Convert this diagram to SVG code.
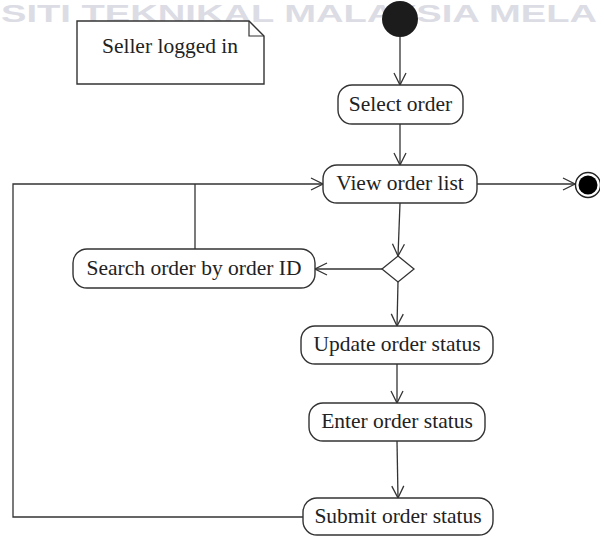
<svg xmlns="http://www.w3.org/2000/svg" width="600" height="536" viewBox="0 0 600 536">
<defs>
<marker id="arr" markerWidth="14" markerHeight="14" refX="13" refY="7" orient="auto" markerUnits="userSpaceOnUse">
<path d="M1,1 L13,7 L1,13" fill="none" stroke="#333" stroke-width="1.3"/>
</marker>
</defs>
<style>
.wm{font-family:"Liberation Sans",Arial,sans-serif;font-weight:bold;font-size:23px;fill:#dcdce5}
.node rect{fill:#fff;stroke:#333;stroke-width:1.4}
.lbl{font-family:"Liberation Serif","Times New Roman",serif;font-size:21.5px;fill:#222;text-anchor:middle}
.conn path{fill:none;stroke:#333;stroke-width:1.3}
</style>
<rect width="600" height="536" fill="#fff"/>
<text class="wm" x="1" y="21.5" textLength="596" lengthAdjust="spacingAndGlyphs">SITI TEKNIKAL MALAYSIA MELA</text>
<g id="note">
<path d="M77,21 L249,21 L264,36 L264,84 L77,84 Z" fill="#fff" stroke="#333" stroke-width="1.4"/>
<path d="M249,21 L249,36 L264,36" fill="none" stroke="#333" stroke-width="1.2"/>
<text class="lbl" x="170" y="53">Seller logged in</text>
</g>
<g class="conn" id="connectors">
<path d="M400,37 L400,85" marker-end="url(#arr)"/>
<path d="M400,124 L400,165" marker-end="url(#arr)"/>
<path d="M477,184 L575,184" marker-end="url(#arr)"/>
<path d="M400,203 L398,256" marker-end="url(#arr)"/>
<path d="M382,269 L315,269" marker-end="url(#arr)"/>
<path d="M398,282 L397,326" marker-end="url(#arr)"/>
<path d="M397,364 L397,403" marker-end="url(#arr)"/>
<path d="M397,441 L398,498" marker-end="url(#arr)"/>
<path d="M303,517 L13,517 L13,184 L323,184" marker-end="url(#arr)"/>
<path d="M195,249 L195,184"/>
</g>
<g id="start"><circle cx="400" cy="19" r="18" fill="#1c1c1c"/></g>
<g id="end">
<circle cx="588" cy="185" r="12.5" fill="#fff" stroke="#222" stroke-width="1.4"/>
<circle cx="588" cy="185" r="9.5" fill="#000"/>
</g>
<g class="node" id="select-order"><rect x="338" y="85" width="125" height="39" rx="14"/><text class="lbl" x="400.5" y="111">Select order</text></g>
<g class="node" id="view-order-list"><rect x="323" y="165" width="154" height="38" rx="14"/><text class="lbl" x="400" y="190">View order list</text></g>
<g id="decision"><path d="M398,256 L414,269 L398,282 L382,269 Z" fill="#fff" stroke="#333" stroke-width="1.3"/></g>
<g class="node" id="search-order"><rect x="73" y="249" width="242" height="39" rx="14"/><text class="lbl" x="194" y="275">Search order by order ID</text></g>
<g class="node" id="update-status"><rect x="301" y="326" width="192" height="38" rx="14"/><text class="lbl" x="397" y="351">Update order status</text></g>
<g class="node" id="enter-status"><rect x="309" y="403" width="176" height="38" rx="14"/><text class="lbl" x="397" y="428">Enter order status</text></g>
<g class="node" id="submit-status"><rect x="303" y="498" width="190" height="37" rx="14"/><text class="lbl" x="398" y="523">Submit order status</text></g>
</svg>
